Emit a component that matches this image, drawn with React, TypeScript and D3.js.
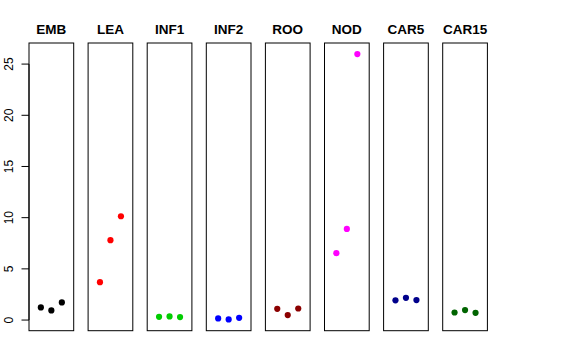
import React from "react";
import * as d3 from "d3";

const categories = ["EMB", "LEA", "INF1", "INF2", "ROO", "NOD", "CAR5", "CAR15"];
const colors = ["#000000", "#FF0000", "#00CD00", "#0000FF", "#8B0000", "#FF00FF", "#00008B", "#006400"];
const rep1 = [1.23, 3.70, 0.32, 0.16, 1.10, 6.53, 1.93, 0.74];
const rep2 = [0.94, 7.80, 0.35, 0.06, 0.49, 8.90, 2.17, 0.97];
const rep3 = [1.72, 10.14, 0.29, 0.22, 1.13, 25.98, 1.95, 0.71];
const yTicks = [0, 5, 10, 15, 20, 25];

const W = 576;
const H = 360;
const panelLeft0 = 29;
const panelStep = 59.1;
const panelW = 44.7;
const top = 43;
const bottom = 330.7;

export default function App() {
  const y = d3.scaleLinear().domain([-1.04, 27.06]).range([bottom, top]);
  const x = d3.scaleLinear().domain([-0.13, 4.13]).range([0, panelW]);
  const reps = [rep1, rep2, rep3];
  return (
    <svg width={W} height={H} style={{ position: "absolute", left: 0, top: 0 }}
      fontFamily="'Liberation Sans', Arial, sans-serif">
      <rect width={W} height={H} fill="#fff" />
      {/* y axis */}
      <line x1={panelLeft0} x2={panelLeft0} y1={y(0)} y2={y(25)} stroke="#000" />
      {yTicks.map((t) => (
        <g key={t}>
          <line x1={panelLeft0 - 7.5} x2={panelLeft0} y1={y(t)} y2={y(t)} stroke="#000" />
          <text transform={`translate(12.5,${y(t)}) rotate(-90)`} textAnchor="middle" fontSize={12}>
            {t}
          </text>
        </g>
      ))}
      {categories.map((c, i) => {
        const x0 = panelLeft0 + i * panelStep;
        return (
          <g key={c} transform={`translate(${x0},0)`}>
            <rect x={0} y={top} width={panelW} height={bottom - top} fill="none" stroke="#000" />
            <text x={panelW / 2} y={34} textAnchor="middle" fontSize={13.5} fontWeight="bold">
              {c}
            </text>
            {reps.map((r, j) => (
              <circle key={j} cx={x(j + 1)} cy={y(r[i])} r={3.1} fill={colors[i]} />
            ))}
          </g>
        );
      })}
    </svg>
  );
}
